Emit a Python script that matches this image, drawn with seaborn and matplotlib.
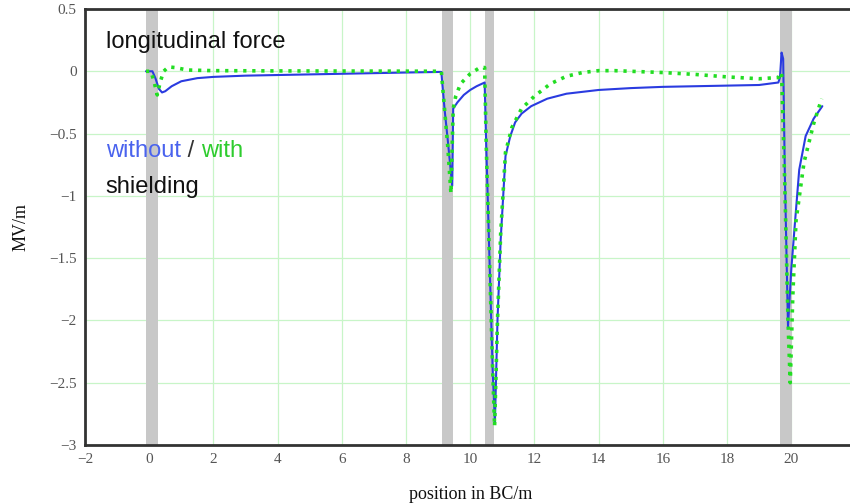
import matplotlib
matplotlib.use("Agg")
import matplotlib.pyplot as plt
from matplotlib import transforms
import seaborn as sns
import pandas as pd

# --- data ---
x_without = [-0.1, 0.1, 0.2, 0.3, 0.4, 0.5, 0.7, 1.0, 1.5, 2.0, 3.0, 4.0, 5.0, 6.0, 7.0, 8.0, 9.1,
             9.2, 9.3, 9.44, 9.47, 9.6, 9.8, 10.0, 10.2, 10.45,
             10.5, 10.6, 10.7, 10.77, 10.85, 10.95, 11.1, 11.25, 11.4, 11.6, 11.9, 12.4, 13.0,
             14.0, 15.0, 16.0, 17.0, 18.0, 19.0, 19.6, 19.65, 19.7, 19.75,
             19.8, 19.9, 20.0, 20.1, 20.25, 20.45, 20.7, 20.97]
y_without = [0.0, 0.0, -0.06, -0.14, -0.17, -0.16, -0.12, -0.08, -0.055, -0.045, -0.035, -0.03, -0.025,
             -0.02, -0.015, -0.01, -0.005,
             -0.3, -0.55, -0.92, -0.3, -0.25, -0.19, -0.15, -0.12, -0.09,
             -0.6, -1.5, -2.4, -2.82, -2.0, -1.35, -0.68, -0.52, -0.41, -0.34, -0.28, -0.22, -0.18,
             -0.15, -0.135, -0.125, -0.12, -0.115, -0.11, -0.09, -0.05, 0.15, 0.1,
             -0.8, -2.05, -1.6, -1.27, -0.79, -0.52, -0.38, -0.28]

x_with = [-0.1, 0.05, 0.15, 0.25, 0.35, 0.45, 0.6, 0.8, 1.2, 2.0, 4.0, 6.0, 8.0, 9.1,
          9.2, 9.3, 9.4, 9.47, 9.55, 9.7, 10.0, 10.3, 10.45,
          10.5, 10.6, 10.7, 10.76, 10.85, 10.95, 11.1, 11.3, 11.6, 12.0, 12.5, 13.0, 13.5,
          14.0, 14.5, 15.0, 16.0, 17.0, 18.0, 19.0, 19.6, 19.7,
          19.8, 19.9, 19.97, 20.05, 20.15, 20.4, 20.7, 20.95]
y_with = [0.0, 0.0, -0.08, -0.19, -0.08, 0.0, 0.035, 0.03, 0.01, 0.005, 0.003, 0.002, 0.001, 0.0,
          -0.3, -0.6, -0.98, -0.3, -0.2, -0.1, -0.02, 0.03, 0.03,
          -0.6, -1.5, -2.4, -2.85, -2.0, -1.3, -0.65, -0.45, -0.3, -0.2, -0.1, -0.04, -0.01,
          0.005, 0.005, 0.0, -0.01, -0.025, -0.045, -0.06, -0.05, -0.01,
          -0.9, -2.0, -2.5, -1.8, -1.2, -0.73, -0.42, -0.22]

band_starts = [-0.09, 9.13, 10.47, 19.66]
band_ends = [0.28, 9.47, 10.75, 20.03]

x_ticks = [-2, 0, 2, 4, 6, 8, 10, 12, 14, 16, 18, 20]
y_ticks = [0.5, 0, -0.5, -1, -1.5, -2, -2.5, -3]
y_tick_labels = ["0.5", "0", "\u22120.5", "\u22121", "\u22121.5", "\u22122", "\u22122.5", "\u22123"]

df_without = pd.DataFrame({"x": x_without, "y": y_without})
df_with = pd.DataFrame({"x": x_with, "y": y_with})

sns.set_theme(style="white")
plt.rcParams["font.family"] = ["Liberation Serif", "DejaVu Serif"]

fig = plt.figure(figsize=(8.5, 5.04), dpi=100)
ax = fig.add_axes([85 / 850, 59 / 504, 24 * 32.1 / 850, 436 / 504])

for s, e in zip(band_starts, band_ends):
    ax.axvspan(s, e, color="#c8c8c8", lw=0, zorder=1)

sns.lineplot(data=df_without, x="x", y="y", ax=ax, sort=False, estimator=None,
             color="#2a3be0", lw=1.5, zorder=3)
sns.lineplot(data=df_with, x="x", y="y", ax=ax, sort=False, estimator=None,
             color="#22dd22", lw=2.6, linestyle=(0, (0.9, 1.6)), zorder=4)

ax.set_xlim(-2, 22)
ax.set_ylim(-3, 0.5)
ax.set_xticks(x_ticks)
ax.set_xticklabels([str(t).replace("-", "\u2212") for t in x_ticks])
ax.set_yticks(y_ticks)
ax.set_yticklabels(y_tick_labels)
ax.grid(True, color="#c8f5c8", lw=0.9, zorder=0)
ax.set_axisbelow(True)
ax.tick_params(axis="both", length=0, labelsize=11, colors="#555555", pad=6)

for side in ["left", "bottom", "top"]:
    ax.spines[side].set_color("#333333")
    ax.spines[side].set_linewidth(2.0)
ax.spines["right"].set_visible(False)

ax.set_xlabel("position in BC/m", fontsize=13, color="#111111", labelpad=14)
ax.set_ylabel("MV/m", fontsize=13, color="#111111", labelpad=14)

sans = ["Liberation Sans", "DejaVu Sans"]
ax.text(-1.35, 0.235, "longitudinal force", fontsize=17, family=sans, color="#111111", va="center")
t1 = ax.text(-1.35, -0.64, "without", fontsize=17, family=sans, color="#4a63ee", va="center")
fig.canvas.draw()
bb = t1.get_window_extent()
off = transforms.offset_copy(t1.get_transform(), fig=fig, x=bb.width / fig.dpi * 72, units="points")
t2 = ax.text(-1.35, -0.64, " / ", fontsize=17, family=sans, color="#333333", va="center", transform=off)
bb2 = t2.get_window_extent()
off2 = transforms.offset_copy(t1.get_transform(), fig=fig, x=(bb.width + bb2.width) / fig.dpi * 72, units="points")
ax.text(-1.35, -0.64, "with", fontsize=17, family=sans, color="#2ecc2e", va="center", transform=off2)
ax.text(-1.35, -0.93, "shielding", fontsize=17, family=sans, color="#111111", va="center")

fig.savefig("out.png", dpi=100)
